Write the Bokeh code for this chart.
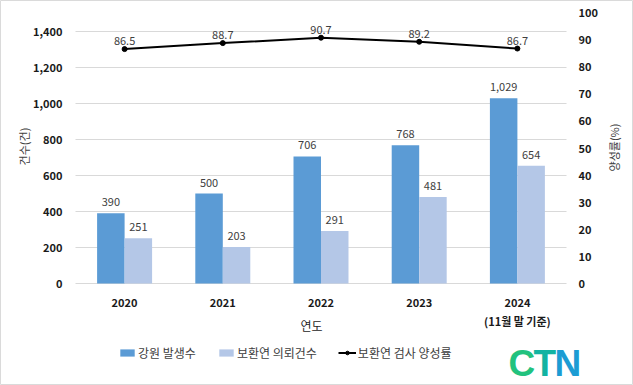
import math
from bokeh.plotting import figure
from bokeh.models import (Range1d, LinearAxis, FixedTicker, Legend, LegendItem, Label,
                          ColumnDataSource, NumeralTickFormatter)
from bokeh.transform import dodge
from bokeh.core.properties import value
from bokeh.embed import file_html
from bokeh.resources import INLINE

# ---- data ----
years = ["2020", "2021", "2022", "2023", "2024"]
tick_labels = ["2020", "2021", "2022", "2023", "2024\n(11월 말 기준)"]
outbreaks = [390, 500, 706, 768, 1029]          # 강원 발생수
requests = [251, 203, 291, 481, 654]            # 보환연 의뢰건수
positivity = [86.5, 88.7, 90.7, 89.2, 86.7]     # 보환연 검사 양성률 (%)
left_ticks = [0, 200, 400, 600, 800, 1000, 1200, 1400]
right_ticks = [0, 10, 20, 30, 40, 50, 60, 70, 80, 90, 100]

FONT = "Noto Sans CJK KR"
BLUE = "#5B9BD5"
LIGHT = "#B4C7E7"
GRID = "#D9D9D9"
LABEL = "#404040"
TICK = "#1a1a1a"

# ---- layout (pixels of the plotting area inside the canvas) ----
W, H = 633, 385
AREA_L, AREA_R = 75, 566          # left / right edge of plot area
ZERO_Y, TOP_LEFT_Y, TOP_RIGHT_Y = 283, 31, 12   # y of 0, of 1400 (left), of 100 (right)
n = len(years)
xpp = (AREA_R - AREA_L) / n
ypp = (ZERO_Y - TOP_LEFT_Y) / left_ticks[-1]
rpp = (ZERO_Y - TOP_RIGHT_Y) / right_ticks[-1]

xc = [i + 0.5 for i in range(n)]
src = ColumnDataSource(dict(
    x=xc, out=outbreaks, req=requests, rate=positivity,
    out_t=[f"{v:,}" for v in outbreaks],
    req_t=[f"{v:,}" for v in requests],
    rate_t=[f"{v:.1f}" for v in positivity],
))
grid_src = ColumnDataSource(dict(y=left_ticks))

p = figure(width=W, height=H,
           x_range=Range1d(-AREA_L / xpp, n + (W - AREA_R) / xpp),
           y_range=Range1d(-(H - ZERO_Y) / ypp, ZERO_Y / ypp),
           output_backend="svg", toolbar_location=None,
           min_border_left=0, min_border_right=0, min_border_top=0, min_border_bottom=0)
p.extra_y_ranges = {"rate": Range1d(-(H - ZERO_Y) / rpp, ZERO_Y / rpp)}
p.outline_line_color = "#DADADA"
p.outline_line_width = 1
p.background_fill_color = "white"
p.border_fill_color = "white"
p.xgrid.visible = False
p.ygrid.visible = False

# horizontal gridlines limited to plot area
p.segment(x0=0, x1=n, y0="y", y1="y", source=grid_src, line_color=GRID, line_width=1)


def style_axis(ax, standoff):
    ax.axis_line_color = None
    ax.major_tick_line_color = None
    ax.minor_tick_line_color = None
    ax.major_tick_out = 0
    ax.major_tick_in = 0
    ax.minor_tick_out = 0
    ax.minor_tick_in = 0
    ax.major_label_standoff = standoff
    ax.major_label_text_font = FONT
    ax.major_label_text_font_size = "11px"
    ax.major_label_text_font_style = "bold"
    ax.major_label_text_color = TICK


# x axis (fixed at y = 0)
xa = p.xaxis[0]
style_axis(xa, 10)
xa.fixed_location = 0
xa.ticker = FixedTicker(ticks=xc)
xa.major_label_overrides = {x: t for x, t in zip(xc, tick_labels)}

# left axis (fixed at x = 0)
ya = p.yaxis[0]
style_axis(ya, 13)
ya.fixed_location = 0
ya.ticker = FixedTicker(ticks=left_ticks)
ya.formatter = NumeralTickFormatter(format="0,0")

# right axis (fixed at x = n)
ra = LinearAxis(y_range_name="rate", ticker=FixedTicker(ticks=right_ticks))
style_axis(ra, 12)
ra.fixed_location = n
p.add_layout(ra, "right")

# bars
b1 = p.vbar(x=dodge("x", -0.14, range=p.x_range), top="out", width=0.28, source=src,
            fill_color=BLUE, line_color=None)
b2 = p.vbar(x=dodge("x", 0.14, range=p.x_range), top="req", width=0.28, source=src,
            fill_color=LIGHT, line_color=None)

# bar labels
p.text(x=dodge("x", -0.14, range=p.x_range), y="out", text="out_t", source=src,
       text_align="center", text_baseline="middle", y_offset=-11,
       text_font=value(FONT), text_font_size="11px", text_color=LABEL)
p.text(x=dodge("x", 0.14, range=p.x_range), y="req", text="req_t", source=src,
       text_align="center", text_baseline="middle", y_offset=-11,
       text_font=value(FONT), text_font_size="11px", text_color=LABEL)

# line
ln = p.line(x="x", y="rate", source=src, y_range_name="rate", line_color="black", line_width=2)
mk = p.scatter(x="x", y="rate", source=src, y_range_name="rate", size=5,
               fill_color="black", line_color="black")
p.text(x="x", y="rate", text="rate_t", source=src, y_range_name="rate",
       text_align="center", text_baseline="middle", y_offset=-8,
       text_font=value(FONT), text_font_size="11px", text_color=LABEL)

# axis titles
p.add_layout(Label(x=23, y=H - 146, x_units="screen", y_units="screen", text="건수(건)",
                   angle=90, angle_units="deg", text_align="center", text_baseline="middle",
                   text_font=FONT, text_font_size="11px", text_color=LABEL))
p.add_layout(Label(x=613, y=H - 147, x_units="screen", y_units="screen", text="양성률(%)",
                   angle=90, angle_units="deg", text_align="center", text_baseline="middle",
                   text_font=FONT, text_font_size="11px", text_color=LABEL))
p.add_layout(Label(x=311, y=H - 325, x_units="screen", y_units="screen", text="연도",
                   text_align="center", text_baseline="middle",
                   text_font=FONT, text_font_size="12px", text_color="#262626"))

# legend
legend = Legend(items=[
    LegendItem(label="강원 발생수", renderers=[b1]),
    LegendItem(label="보환연 의뢰건수", renderers=[b2]),
    LegendItem(label="보환연 검사 양성률", renderers=[ln, mk]),
], orientation="horizontal", location=(118, H - 361))
legend.background_fill_alpha = 0
legend.border_line_color = None
legend.padding = 0
legend.margin = 0
legend.spacing = 21
legend.glyph_width = 18
legend.glyph_height = 9
legend.label_standoff = 2
legend.label_height = 14
legend.label_text_font = FONT
legend.label_text_font_size = "12px"
legend.label_text_color = LABEL
p.add_layout(legend, "center")

# CTN logo
for letter, lx, col in [("C", 508, "#22C27E"), ("T", 533, "#12B3A2"), ("N", 554, "#1C9CD3")]:
    p.add_layout(Label(x=lx, y=H - 363, x_units="screen", y_units="screen", text=letter,
                       text_align="left", text_baseline="alphabetic",
                       text_font="Liberation Sans", text_font_style="bold",
                       text_font_size="37px", text_color=col))

open("out.html", "w").write(file_html(p, INLINE))
